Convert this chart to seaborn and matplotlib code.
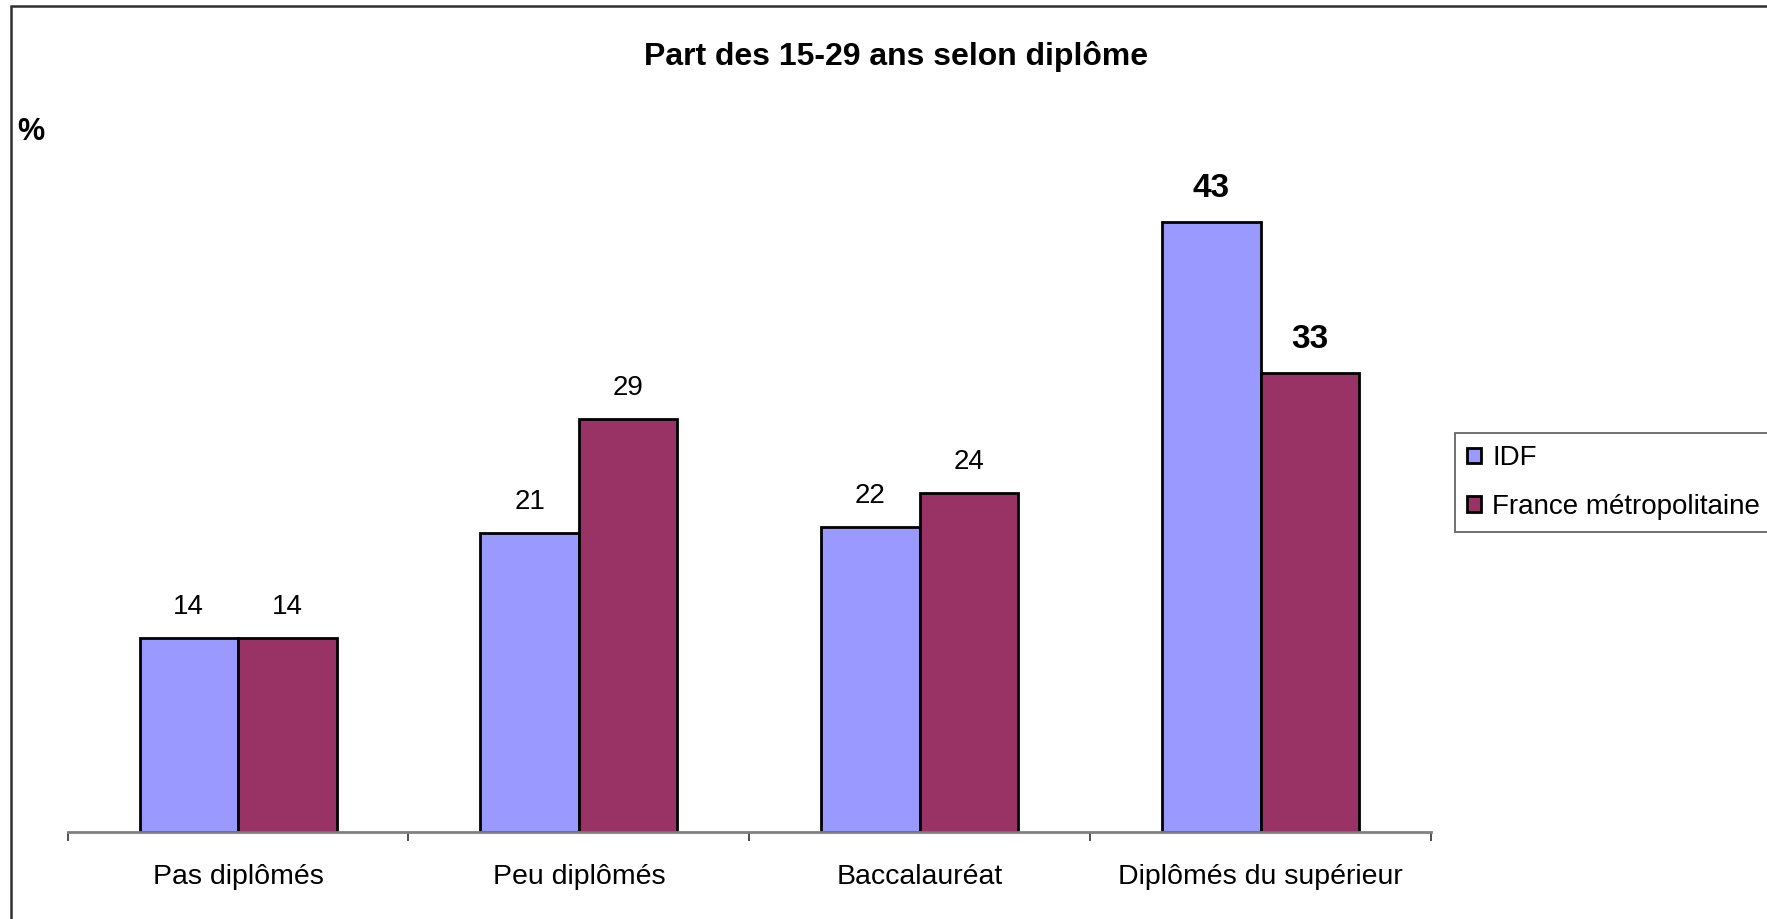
import matplotlib
matplotlib.use('Agg')
import matplotlib.pyplot as plt
import seaborn as sns
import pandas as pd
from matplotlib.patches import Rectangle

categories = ['Pas diplômés', 'Peu diplômés', 'Baccalauréat', 'Diplômés du supérieur']
series = ['IDF', 'France métropolitaine']
idf = [13.8, 21.3, 21.7, 43.4]
france = [13.8, 29.4, 24.1, 32.7]
colors = ['#9999FF', '#993366']

df = pd.DataFrame({
    'categorie': categories * 2,
    'zone': [series[0]] * 4 + [series[1]] * 4,
    'part': idf + france,
})

sns.set_style('white')
plt.rcParams['font.family'] = ['Liberation Sans', 'DejaVu Sans']
plt.rcParams['text.color'] = 'black'

fig = plt.figure(figsize=(17.67, 9.19), dpi=100)
ax = fig.add_axes([0.0383, 0.0947, 0.7715, 0.703])

sns.barplot(data=df, x='categorie', y='part', hue='zone', order=categories,
            hue_order=series, palette=colors, width=0.578, edgecolor='black',
            linewidth=2, saturation=1, ax=ax, legend=True)

# value labels, last group in bold
for cont in ax.containers:
    texts = ax.bar_label(cont, labels=[f'{v:.0f}' for v in cont.datavalues],
                         padding=13, fontsize=20, color='black')
    texts[-1].set_fontweight('bold')
    texts[-1].set_fontsize(24)

ax.set_xlim(-0.5, 3.5)
ax.set_ylim(0, 46)
ax.set_xlabel('')
ax.set_ylabel('')
ax.set_yticks([])
for s in ['top', 'right', 'left']:
    ax.spines[s].set_visible(False)
ax.spines['bottom'].set_color('#808080')
ax.spines['bottom'].set_linewidth(2)

ax.set_xticks(range(4))
ax.set_xticklabels(categories, fontsize=20.5, color='black')
ax.tick_params(axis='x', which='major', length=0, pad=23)
ax.set_xticks([-0.5, 0.5, 1.5, 2.5, 3.5], minor=True)
ax.tick_params(axis='x', which='minor', length=6.5, width=1.3, color='#404040',
               direction='out', bottom=True)

leg = ax.legend(loc='upper left', bbox_to_anchor=(0.8234, 0.529),
                bbox_transform=fig.transFigure, fontsize=20, frameon=True,
                fancybox=False, handlelength=0.5, handleheight=0.5,
                handletextpad=0.4, borderpad=0.45, labelspacing=0.8,
                borderaxespad=0)
leg.get_frame().set_edgecolor('#404040')
leg.get_frame().set_linewidth(1.3)
for t in leg.get_texts():
    t.set_color('black')

fig.text(0.507, 1 - 56 / 919, 'Part des 15-29 ans selon diplôme',
         ha='center', va='center', fontsize=23, fontweight='bold')
fig.text(0.0176, 1 - 132 / 919, '%', ha='center', va='center',
         fontsize=22, fontweight='bold')

# chart area border
fig.patches.append(Rectangle((11 / 1767, -0.1), 1.2, 1 - 6 / 919 + 0.1,
                             transform=fig.transFigure, fill=False,
                             edgecolor='#303030', linewidth=1.8))

plt.savefig('out.png', dpi=100)
